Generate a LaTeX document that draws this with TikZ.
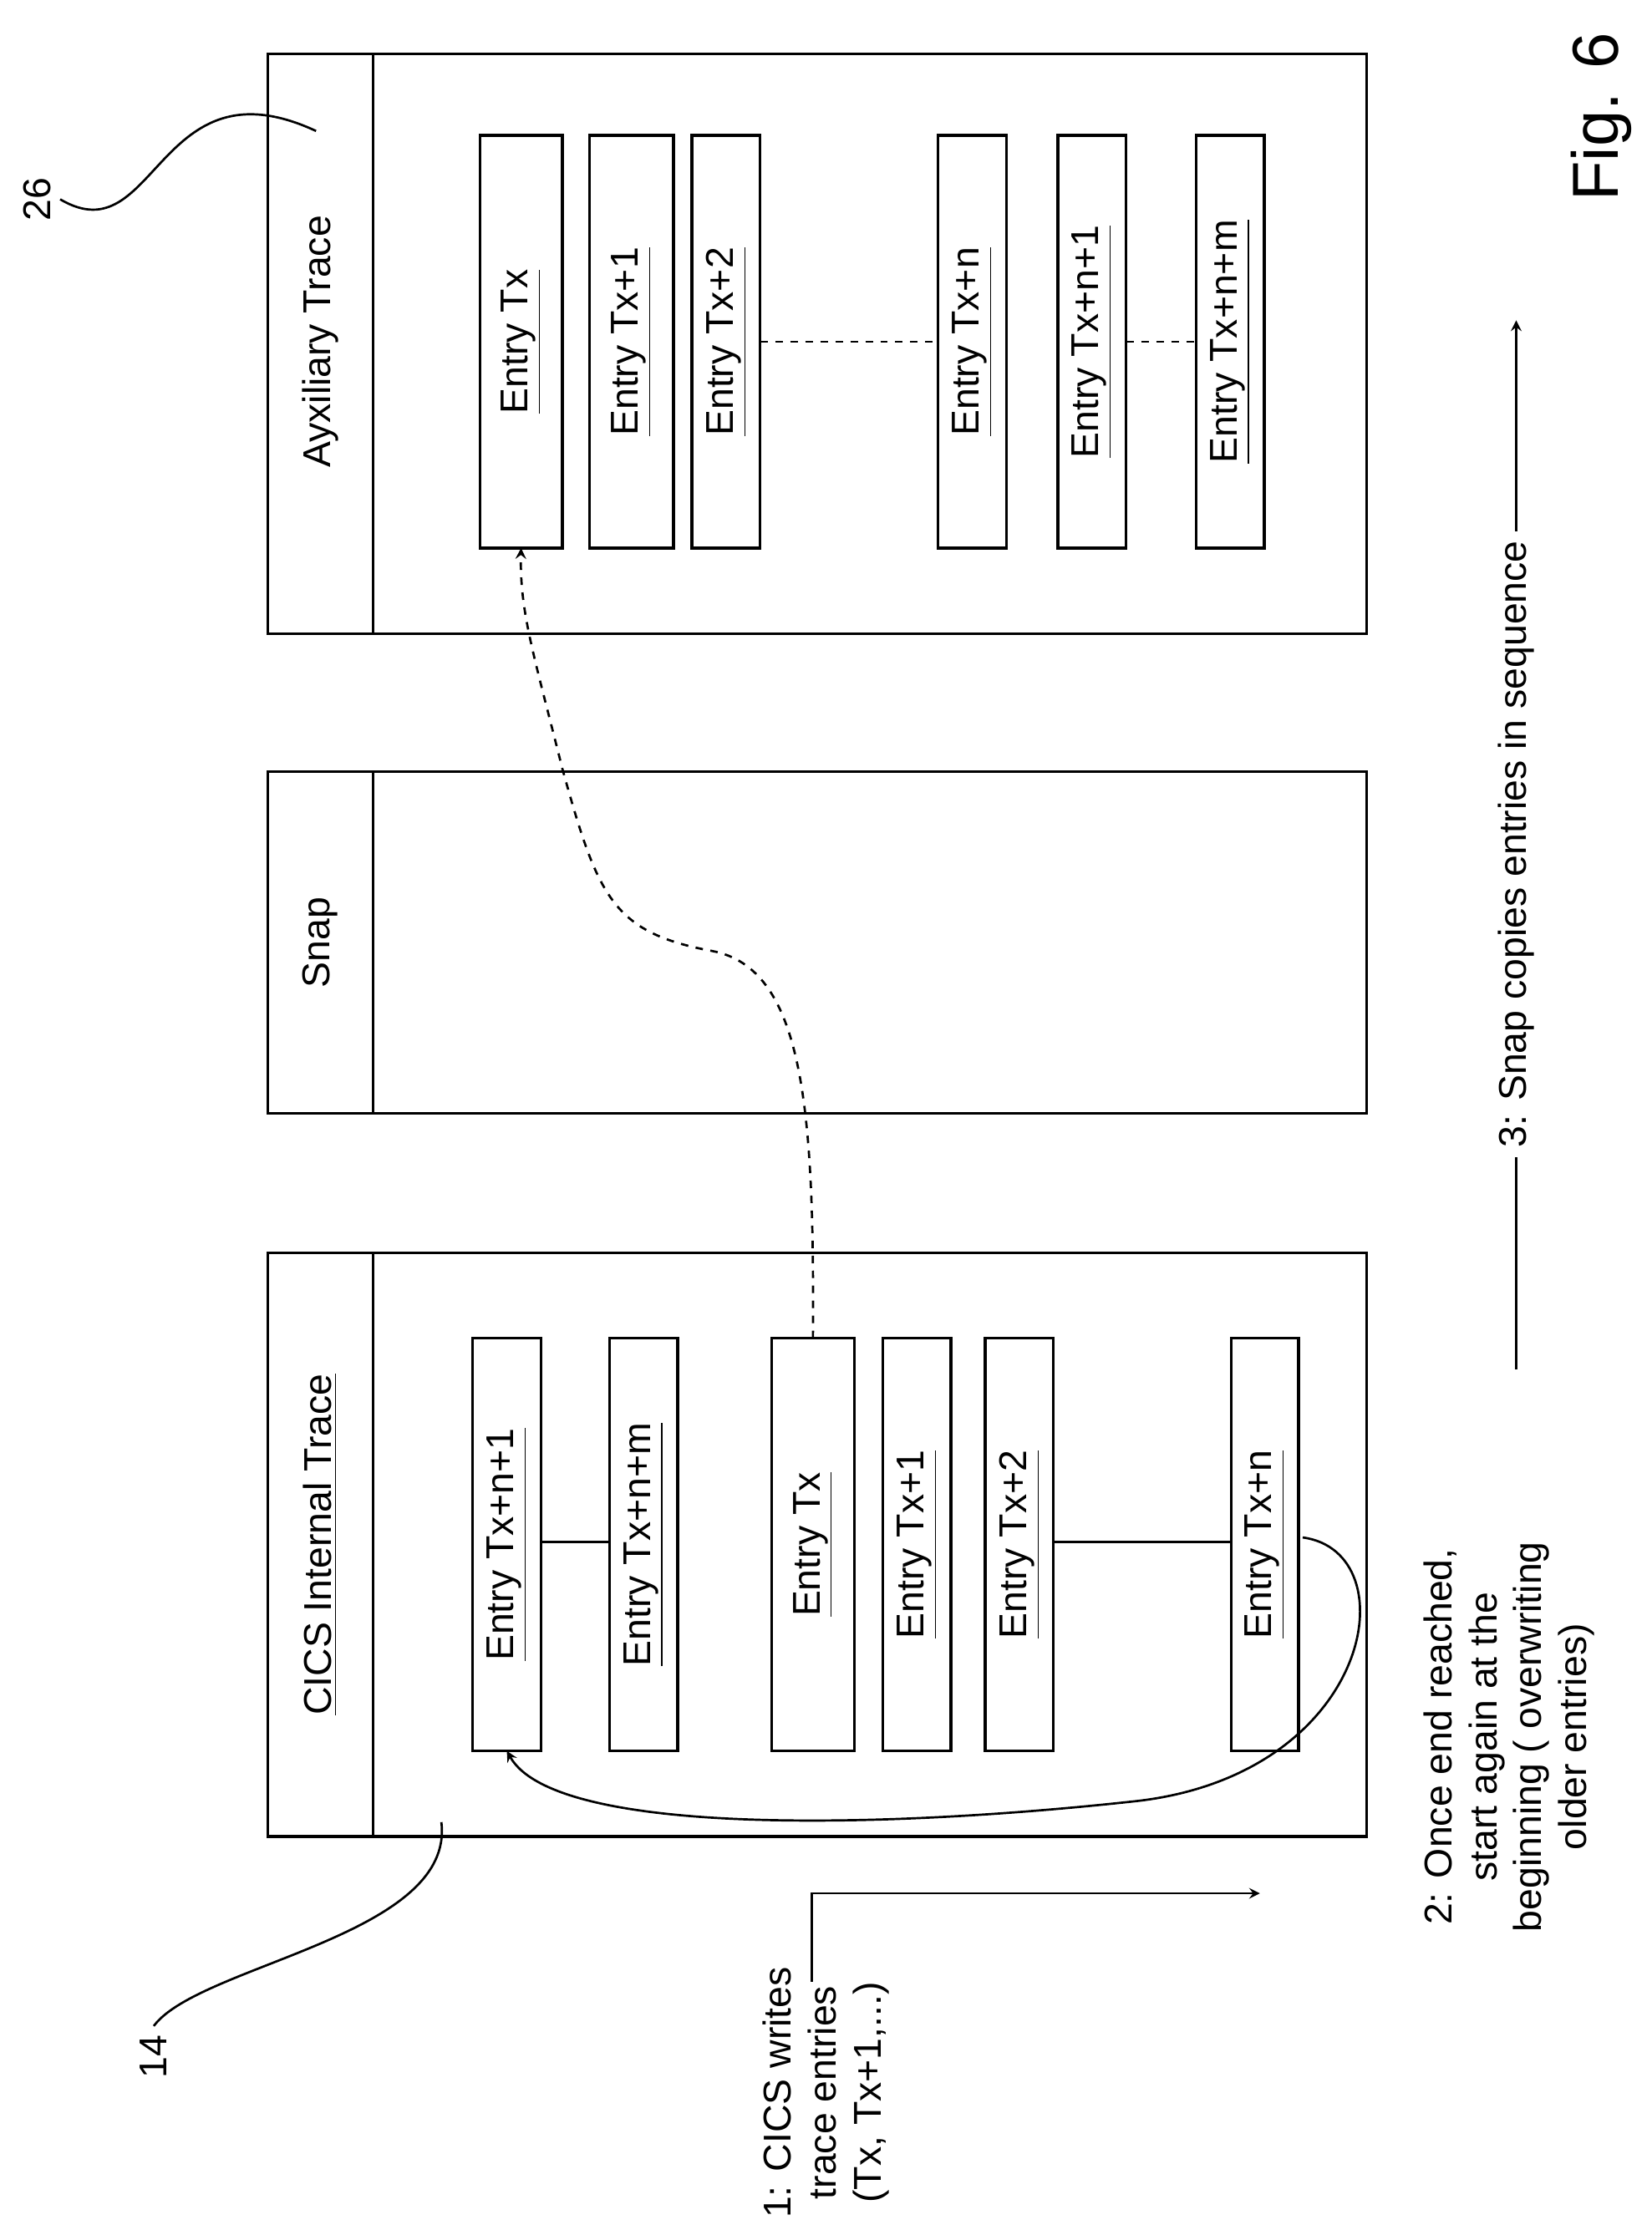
\documentclass[tikz,border=0pt]{standalone}
\usepackage{fontspec}
\setmainfont{Liberation Sans}
\begin{document}
\begin{tikzpicture}
[x=0.02cm,y=-0.02cm,line width=0.9pt,
 box/.style={draw,line width=1.1pt},
 entry/.style={rotate=90,font=\fontsize{15.5}{18}\selectfont},
 lbl/.style={rotate=90,font=\fontsize{15.5}{18}\selectfont,align=center}]
\useasboundingbox (0,0) rectangle (1160,1563);
% CICS internal trace
\draw [box] (188,880) rectangle (960,1290);
\draw [box] (262,880) -- (262,1290);
\node [lbl] (cicsT) at (225,1085) {\underline{CICS Internal Trace}};
\foreach \nm/\xa/\xb/\txt in {c1/332/380/Tx+n+1, c2/428/476/Tx+n+m, c3/542/600/Tx,
  c4/620/668/Tx+1, c5/692/740/Tx+2, c6/865/912/Tx+n}
  {\draw [box] (\xa,940) rectangle (\xb,1230);
   \node [entry] (\nm) at ({(\xa+\xb)/2},1085) {\underline{Entry \txt}};
   \coordinate (\nm t) at ({(\xa+\xb)/2},940);
   \coordinate (\nm b) at ({(\xa+\xb)/2},1230);}
\draw (380,1083) -- (428,1083);
\draw (740,1083) -- (865,1083);
% Snap
\draw [box] (188,542) rectangle (960,782);
\draw [box] (262,542) -- (262,782);
\node [lbl] (snapT) at (225,662) {Snap};
% auxiliary trace
\draw [box] (188,38) rectangle (960,445);
\draw [box] (262,38) -- (262,445);
\node [lbl] (auxT) at (225,240) {Ayxiliary Trace};
\foreach \nm/\xa/\xb/\txt in {a1/337/395/Tx, a2/414/473/Tx+1, a3/486/534/Tx+2,
  a4/659/707/Tx+n, a5/743/791/Tx+n+1, a6/840/888/Tx+n+m}
  {\draw [box] (\xa,95) rectangle (\xb,385);
   \node [entry] (\nm) at ({(\xa+\xb)/2},240) {\underline{Entry \txt}};
   \coordinate (\nm b) at ({(\xa+\xb)/2},385);}
\draw [dashed] (534,240) -- (659,240);
\draw [dashed] (791,240) -- (840,240);
% copy and wrap arrows
\draw [dashed,-stealth] (c3t) .. controls (572,780) and (565,680) .. (500,668)
  .. controls (430,655) and (420,630) .. (395,540)
  .. controls (375,460) and (365,430) .. (a1b);
\coordinate (wrapS) at (915,1080);
\draw [-stealth] (wrapS) .. controls (990,1090) and (965,1245) .. (800,1265)
  .. controls (620,1285) and (390,1290) .. (c1b);
\node [lbl] (wrapL) at (1060,1220) {2: Once end reached,\\start again at the\\beginning ( overwriting\\older entries)};
% writes arrow
\coordinate (w0) at (570,1392);
\coordinate (w1) at (885,1330);
\draw [-stealth] (w0) |- (w1);
\node [lbl] (writeL) at (580,1470) {1: CICS writes\\trace entries\\(Tx, Tx+1,...)};
% copies arrow
\node [lbl] (copyL) at (1065,593) {3: Snap copies entries in sequence};
\coordinate (s0) at (1065,962);
\coordinate (s1) at (1065,225);
\draw (s0) -- (copyL.west);
\draw [-stealth] (copyL.east) -- (s1);
% reference numerals
\node [lbl] (n14) at (108,1445) {14};
\coordinate (n14e) at (310,1280);
\draw (n14.east) .. controls (140,1380) and (320,1360) .. (n14e);
\node [lbl] (n26) at (26,140) {26};
\coordinate (n26e) at (222,92);
\draw (n26.south) .. controls (110,180) and (110,40) .. (n26e);
\node [rotate=90,font=\fontsize{26}{30}\selectfont] (fig) at (1125,82) {Fig. 6};
\end{tikzpicture}
\end{document}
